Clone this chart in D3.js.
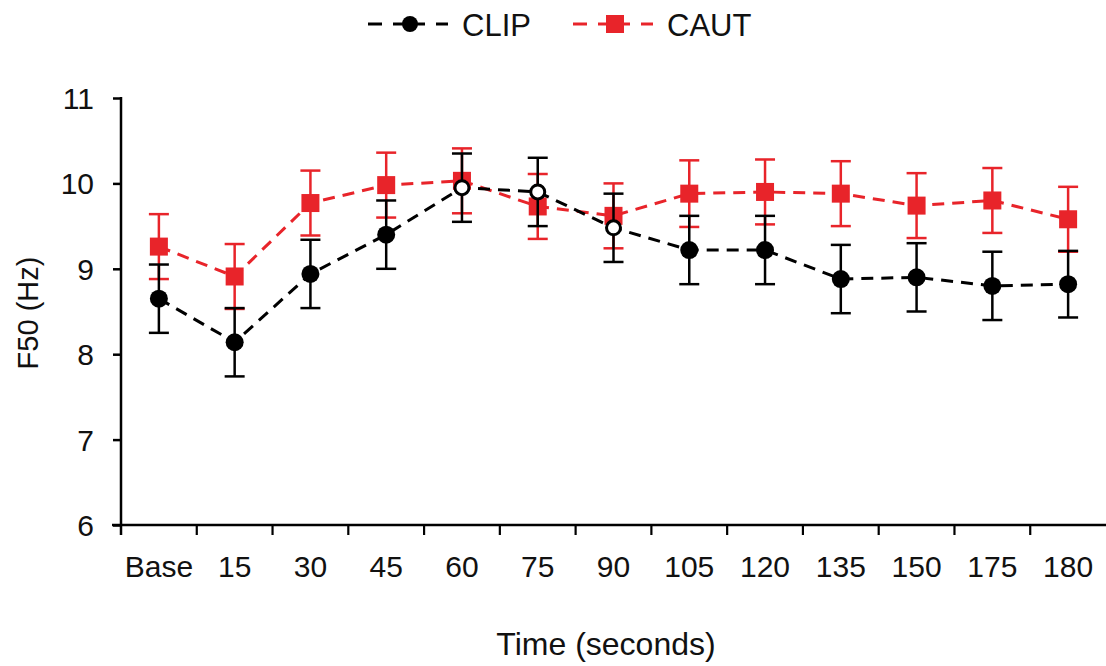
<!DOCTYPE html>
<html><head><meta charset="utf-8">
<script src="https://cdn.jsdelivr.net/npm/d3@7"></script>
<style>body{margin:0;background:#fff}svg{display:block}text{font-family:"Liberation Sans",Arial,sans-serif;fill:#111}</style>
</head><body>
<svg id="c" width="1106" height="666"></svg>
<script>
const categories = ["Base","15","30","45","60","75","90","105","120","135","150","175","180"];
const clipMean = [8.65,8.14,8.94,9.40,9.95,9.90,9.48,9.22,9.22,8.88,8.90,8.80,8.82];
const clipErr  = [0.40,0.40,0.40,0.40,0.40,0.40,0.40,0.40,0.40,0.40,0.40,0.40,0.39];
const clipOpen = [false,false,false,false,true,true,true,false,false,false,false,false,false];
const cautMean = [9.26,8.91,9.77,9.98,10.03,9.73,9.62,9.88,9.90,9.88,9.74,9.80,9.58];
const cautErr  = [0.38,0.38,0.38,0.38,0.38,0.38,0.38,0.39,0.38,0.38,0.38,0.38,0.38];
const yTicks = [6,7,8,9,10,11];

const svg = d3.select("#c");
const x = d3.scaleBand().domain(categories).range([121,1106]).paddingInner(0).paddingOuter(0);
const y = d3.scaleLinear().domain([6,11]).range([525,98]);
const cx = d => x(d) + x.bandwidth()/2;

// axes
const yAxis = svg.append("g").attr("transform","translate(121,0)")
  .call(d3.axisLeft(y).tickValues(yTicks).tickSize(8).tickPadding(19).tickFormat(d3.format("d")));
yAxis.select(".domain").remove();
yAxis.append("line").attr("x1",0).attr("x2",0).attr("y1",y(11)-1).attr("y2",y(6)+10).attr("stroke","#000").attr("stroke-width",2.5);
yAxis.selectAll(".tick line").attr("stroke-width",2.5);
yAxis.selectAll(".tick text").attr("font-size",30).attr("fill","#111").attr("dy","0.35em");

const xAxis = svg.append("g").attr("transform","translate(0,525)");
xAxis.append("line").attr("x1",112).attr("x2",1106).attr("y1",0).attr("y2",0).attr("stroke","#000").attr("stroke-width",2.5);
const bounds = categories.slice(1).map(c => x(c));
xAxis.selectAll("line.tk").data(bounds).join("line").attr("class","tk")
  .attr("x1",d=>d).attr("x2",d=>d).attr("y1",0).attr("y2",10).attr("stroke","#000").attr("stroke-width",2.2);
xAxis.selectAll("text").data(categories).join("text")
  .attr("x",d=>cx(d)).attr("y",52).attr("text-anchor","middle").attr("font-size",30).text(d=>d);

svg.append("text").attr("transform","translate(38,313) rotate(-90)").attr("text-anchor","middle")
  .attr("font-size",29).text("F50 (Hz)");
svg.append("text").attr("x",606).attr("y",655).attr("text-anchor","middle").attr("font-size",32).text("Time (seconds)");

function drawSeries(mean, err, color, shape, openArr){
  const data = categories.map((c,i)=>({c, m:mean[i], e:err[i], open: openArr ? openArr[i] : false}));
  const g = svg.append("g");
  const eb = g.selectAll("g.eb").data(data).join("g").attr("stroke",color).attr("stroke-width",2.5);
  eb.append("line").attr("x1",d=>cx(d.c)).attr("x2",d=>cx(d.c)).attr("y1",d=>y(d.m+d.e)).attr("y2",d=>y(d.m-d.e));
  eb.append("line").attr("x1",d=>cx(d.c)-10).attr("x2",d=>cx(d.c)+10).attr("y1",d=>y(d.m+d.e)).attr("y2",d=>y(d.m+d.e));
  eb.append("line").attr("x1",d=>cx(d.c)-10).attr("x2",d=>cx(d.c)+10).attr("y1",d=>y(d.m-d.e)).attr("y2",d=>y(d.m-d.e));
  g.append("path").datum(data).attr("fill","none").attr("stroke",color).attr("stroke-width",3)
    .attr("stroke-dasharray","12,8")
    .attr("d", d3.line().x(d=>cx(d.c)).y(d=>y(d.m)));
  if(shape==="circle"){
    g.selectAll("circle").data(data).join("circle").attr("cx",d=>cx(d.c)).attr("cy",d=>y(d.m))
      .attr("r",d=>d.open?7:9).attr("fill",d=>d.open?"#fff":color)
      .attr("stroke",color).attr("stroke-width",d=>d.open?3:0);
  } else {
    g.selectAll("rect").data(data).join("rect").attr("x",d=>cx(d.c)-9).attr("y",d=>y(d.m)-9)
      .attr("width",18).attr("height",18).attr("fill",color);
  }
}
drawSeries(cautMean, cautErr, "#e8242a", "square");
drawSeries(clipMean, clipErr, "#000", "circle", clipOpen);

// legend
const lg = svg.append("g");
function legendItem(x0, color, shape, label, tx){
  [[0,14],[25,57],[68,80]].forEach(s=>{
    lg.append("line").attr("x1",x0+s[0]).attr("x2",x0+s[1]).attr("y1",24).attr("y2",24)
      .attr("stroke",color).attr("stroke-width",3);
  });
  if(shape==="circle") lg.append("circle").attr("cx",x0+42).attr("cy",24).attr("r",8).attr("fill",color);
  else lg.append("rect").attr("x",x0+33).attr("y",15).attr("width",18).attr("height",18).attr("fill",color);
  lg.append("text").attr("x",tx).attr("y",36).attr("font-size",31).text(label);
}
legendItem(368,"#000","circle","CLIP",462);
legendItem(573,"#e8242a","square","CAUT",667);
</script>
</body></html>
